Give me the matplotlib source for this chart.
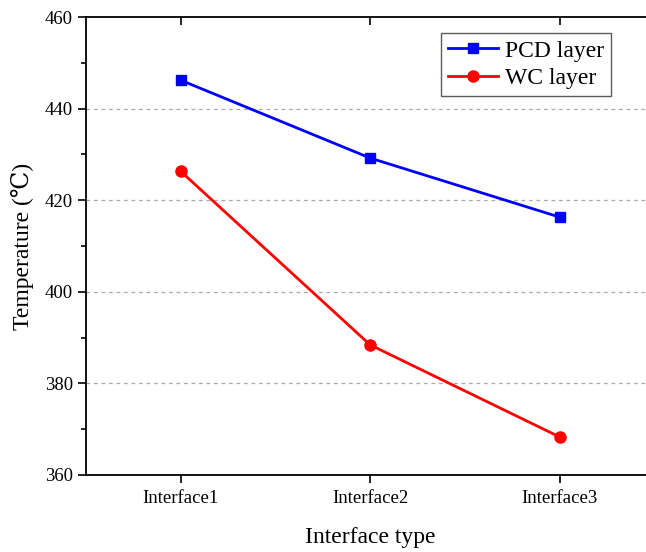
import numpy as np
import matplotlib.pyplot as plt

plt.rcParams['font.family'] = ['Liberation Serif', 'DejaVu Serif']

interfaces = ['Interface1', 'Interface2', 'Interface3']
pcd_temp = [446.2, 429.2, 416.3]
wc_temp = [426.3, 388.4, 368.3]

x = np.arange(1, len(interfaces) + 1)

fig = plt.figure(figsize=(6.46, 5.52), dpi=100)
# axes runs a bit past the right edge, like the cropped original
ax = fig.add_axes([0.1331, 0.1395, 0.880, 0.8297])

ax.plot(x, pcd_temp, color='#0000ff', lw=2, marker='s', ms=7.5, label='PCD layer')
ax.plot(x, wc_temp, color='#ff0000', lw=2, marker='o', ms=8, label='WC layer')

ax.set_xlim(0.5, 3.5)
ax.set_ylim(360, 460)
ax.set_xticks(x)
ax.set_xticklabels(interfaces)
ax.set_yticks(np.arange(360, 461, 20))
ax.set_yticks(np.arange(370, 460, 20), minor=True)

for yv in [380, 400, 420, 440]:
    ax.axhline(yv, color='#aaaaaa', lw=0.9, ls=(0, (3, 3)), zorder=0)

ax.tick_params(axis='both', which='major', labelsize=13.5, length=6, width=1.2, direction='out')
ax.tick_params(axis='y', which='minor', length=3.5, width=1.2, direction='out')
ax.tick_params(axis='x', which='major', top=True, pad=5)
# top ticks point inward
for t in ax.xaxis.get_major_ticks():
    t.tick2line.set_marker(3)
    t.tick2line.set_markersize(6)
    t.tick2line.set_markeredgewidth(1.2)

for s in ax.spines.values():
    s.set_linewidth(1.3)
ax.spines['right'].set_visible(False)

ax.set_xlabel('Interface type', fontsize=17, labelpad=14)
ax.set_ylabel('Temperature (℃)', fontsize=17, labelpad=8)

leg = ax.legend(loc='upper right', bbox_to_anchor=(611 / 646, 1 - 33 / 552),
                bbox_transform=fig.transFigure, fontsize=17, frameon=True,
                fancybox=False, edgecolor='#333333', handlelength=2.1,
                handletextpad=0.3, borderpad=0.3, labelspacing=0.25,
                borderaxespad=0)
leg.get_frame().set_linewidth(1.0)

fig.savefig('out.png', dpi=100)
